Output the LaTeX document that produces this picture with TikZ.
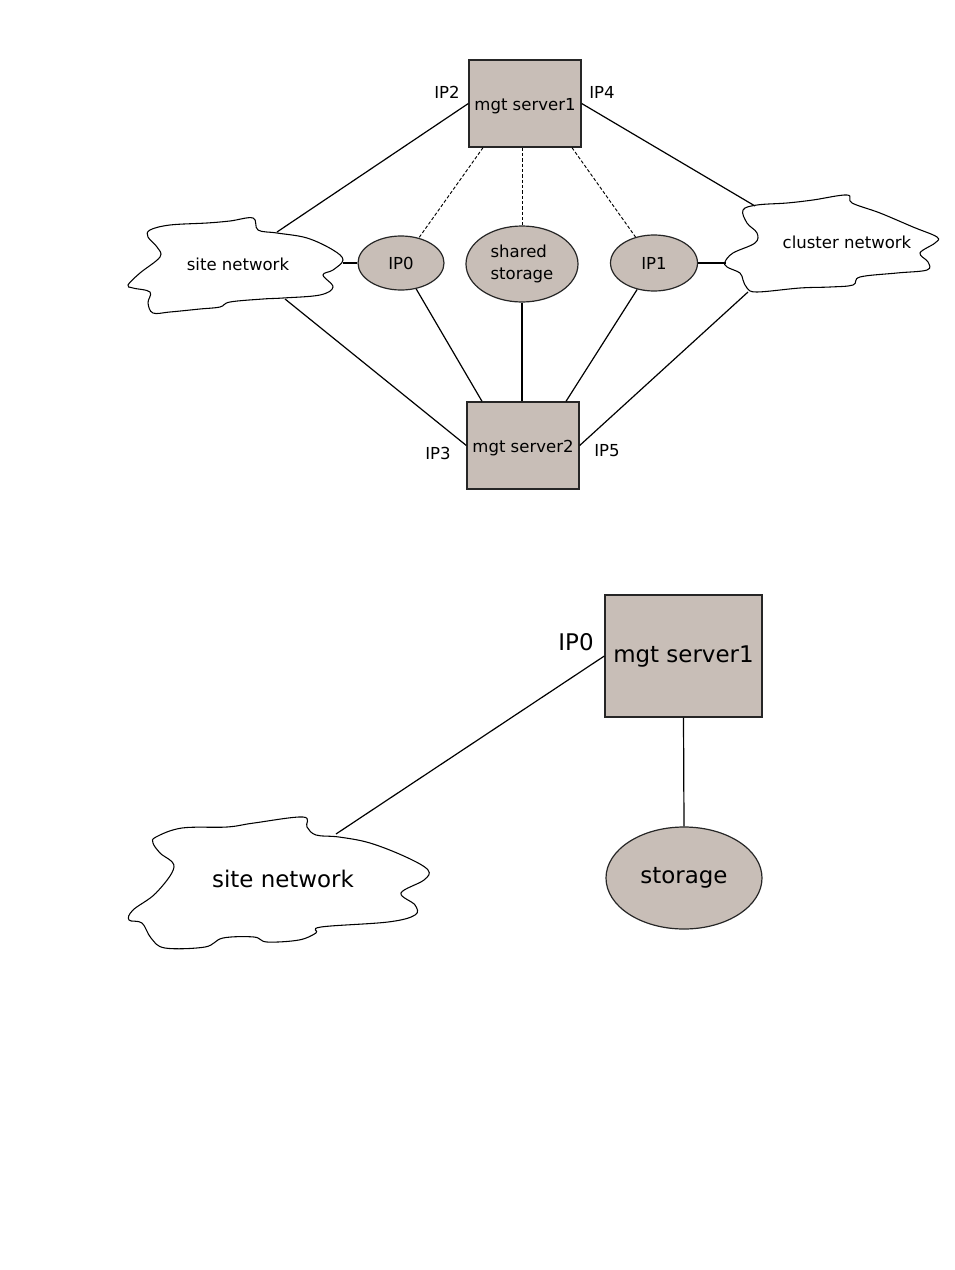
\documentclass[tikz,border=0pt]{standalone}
\usepackage{fontspec}
\setmainfont{DejaVu Sans}
\usetikzlibrary{shapes.geometric,calc}
\definecolor{boxfill}{RGB}{200,190,183}
\begin{document}
\begin{tikzpicture}[x=0.75pt,y=-0.75pt,
  lnk/.style={line width=0.9pt,black},
  dsh/.style={line width=0.7pt,black,dash pattern=on 2.5pt off 1.5pt},
  srv/.style={draw=black!85,line width=1pt,fill=boxfill,inner sep=0pt,text height=1em,text depth=0pt},
  ell/.style={ellipse,draw=black!85,line width=0.9pt,fill=boxfill,inner sep=0pt},
  cld/.style={draw=black,line width=0.8pt,fill=white},
  small/.style={font=\fontsize{12.4}{16.5}\selectfont},
  big/.style={font=\fontsize{17.2}{20}\selectfont}]
\useasboundingbox (0,0) rectangle (954,1270);
\fill[white] (0,0) rectangle (954,1270);

% ---------- top diagram ----------
\draw[cld] plot[smooth cycle,tension=0.6] coordinates {
  (150,230) (170,225) (207,223) (230,221) (253,218) (258,230) (277,233) (307,238)
  (333,250) (343,260) (333,270) (323,275) (333,287) (320,295) (283,298) (263,299)
  (230,302) (220,307) (200,309) (170,312) (153,313) (148,303) (150,292) (133,288)
  (128,285) (140,273) (160,257) (157,247) (148,237)};
\node[small] (sn) at (238,264) {site network};

\draw[cld] plot[smooth cycle,tension=0.6] coordinates {
  (743,210) (757,205) (787,203) (813,200) (847,195) (852,203) (880,213) (913,227)
  (937,237) (935,243) (920,253) (928,262) (927,270) (897,273) (860,277) (853,285)
  (830,287) (800,288) (757,292) (747,288) (743,280) (740,273) (727,267) (725,262)
  (733,253) (755,243) (757,233) (747,223)};
\node[small] (cn) at (847,242) {cluster network};

\coordinate (snT) at (277,232);
\coordinate (snR) at (343,263);
\coordinate (snB) at (285,299);
\coordinate (cnT) at (755,206);
\coordinate (cnL) at (726,263);
\coordinate (cnB) at (748,292);

\node[srv,minimum width=84pt,minimum height=65.25pt,small] (s1) at (525,103.5) {mgt server1};
\node[srv,minimum width=84pt,minimum height=65.25pt,small] (s2) at (523,445.5) {mgt server2};
\node[ell,minimum width=64.5pt,minimum height=40.5pt,small] (ip0) at (401,263) {IP0};
\node[ell,minimum width=84pt,minimum height=57pt,small,align=left] (ss) at (522,264) {shared\\storage};
\node[ell,minimum width=65.25pt,minimum height=42pt,small] (ip1) at (654,263) {IP1};

\node[small] (lip2) at (447,92) {IP2};
\node[small] (lip4) at (602,92) {IP4};
\node[small] (lip3) at (438,453) {IP3};
\node[small] (lip5) at (607,451) {IP5};

\draw[lnk] (snT) -- (s1.west);
\draw[lnk] (s1.east) -- (cnT);
\draw[dsh] ([xshift=-31.5pt]s1.south) -- (ip0);
\draw[dsh] (s1.south -| ss) -- (ss.north);
\draw[dsh] ([xshift=35.25pt]s1.south) -- (ip1);
\draw[lnk] (snR) -- (ip0.west);
\draw[lnk] (ip1.east) -- (cnL);
\draw[lnk] (snB) -- (s2.west);
\draw[lnk] (ip0) -- ([xshift=-30.75pt]s2.north);
\draw[lnk] (ss.south) -- (s2.north -| ss);
\draw[lnk] (ip1) -- ([xshift=32.25pt]s2.north);
\draw[lnk] (cnB) -- (s2.east);

% ---------- bottom diagram ----------
\draw[cld] plot[smooth cycle,tension=0.6] coordinates {
  (156,837) (182,828) (227,827) (254,823) (303,817) (307,827) (316,835) (339,837)
  (370,843) (406,857) (428,870) (424,880) (401,893) (415,905) (415,915) (388,922)
  (321,927) (316,933) (299,940) (267,942) (254,937) (223,938) (205,947) (165,948)
  (151,938) (142,923) (129,920) (133,910) (156,893) (174,867) (160,853) (153,843)};
\node[big] (bsn) at (283,879) {site network};
\coordinate (bsnT) at (336,834);

\node[srv,minimum width=117.75pt,minimum height=91.5pt,big] (b1) at (683.5,656) {mgt server1};
\node[ell,minimum width=117pt,minimum height=76.5pt,big] (st) at (684,878) {storage};
\node[big] (bip0) at (576,642) {IP0};

\draw[lnk] (bsnT) -- (b1.west);
\draw[lnk] (b1.south) -- (st.north);
\end{tikzpicture}
\end{document}
